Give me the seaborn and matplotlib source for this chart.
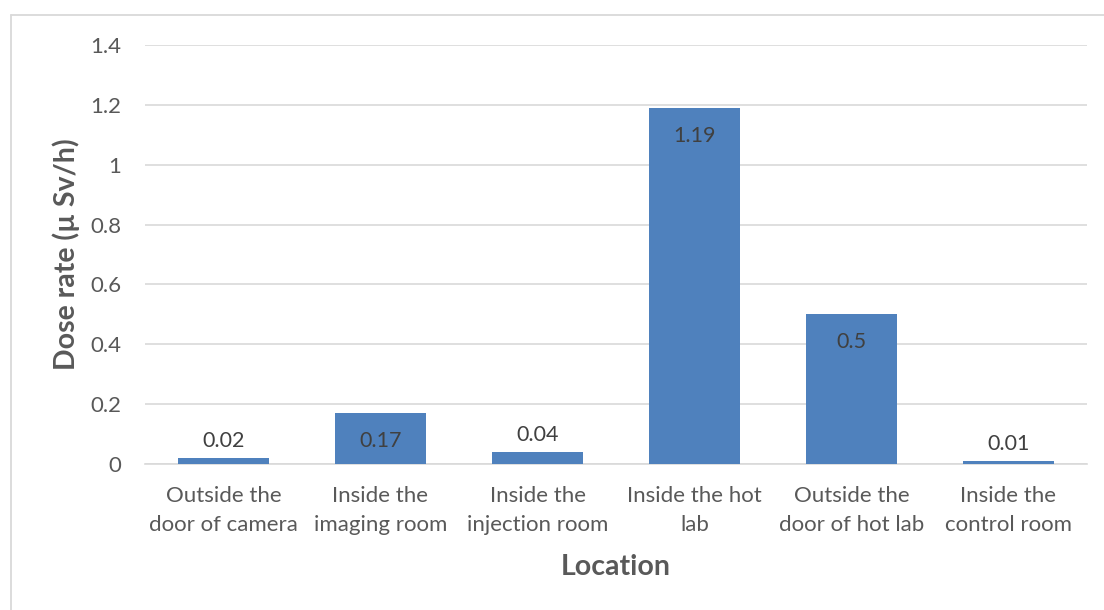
import matplotlib
matplotlib.use("Agg")
import matplotlib.pyplot as plt
from matplotlib.lines import Line2D
import seaborn as sns
import pandas as pd

# Measured dose rates at each location
locations = [
    "Outside the\ndoor of camera",
    "Inside the\nimaging room",
    "Inside the\ninjection room",
    "Inside the hot\nlab",
    "Outside the\ndoor of hot lab",
    "Inside the\ncontrol room",
]
dose_rates = [0.02, 0.17, 0.04, 1.19, 0.5, 0.01]
y_ticks = [0, 0.2, 0.4, 0.6, 0.8, 1, 1.2, 1.4]
y_tick_labels = ["0", "0.2", "0.4", "0.6", "0.8", "1", "1.2", "1.4"]

df = pd.DataFrame({"Location": locations, "Dose": dose_rates})

sns.set_theme(style="white")
plt.rcParams["font.family"] = ["Lato", "DejaVu Sans"]

W, H = 1104, 610
fig = plt.figure(figsize=(W / 100, H / 100), dpi=100)
ax = fig.add_axes([145 / W, (H - 464) / H, (1087 - 145) / W, (464 - 45) / H])

bar_color = "#4F81BD"
sns.barplot(data=df, x="Location", y="Dose", color=bar_color, width=0.575,
            saturation=1, ax=ax, zorder=3)
for p in ax.patches:
    p.set_edgecolor("none")

ax.set_ylim(0, 1.4)
ax.set_xlim(-0.5, len(locations) - 0.5)
ax.set_yticks(y_ticks)
ax.set_yticklabels(y_tick_labels)
ax.yaxis.grid(True, color="#d9d9d9", linewidth=1.2, zorder=0)
ax.set_axisbelow(True)
for s in ["top", "right", "left"]:
    ax.spines[s].set_visible(False)
ax.spines["bottom"].set_color("#d9d9d9")
ax.spines["bottom"].set_linewidth(1.2)

ax.tick_params(axis="y", length=0, pad=17, labelsize=16, labelcolor="#595959")
ax.tick_params(axis="x", length=0, pad=16, labelsize=16, labelcolor="#595959")
for t in ax.get_xticklabels():
    t.set_linespacing(1.52)

ax.set_xlabel("Location", fontsize=20.5, fontweight="bold", color="#595959")
ax.set_ylabel("Dose rate (µ Sv/h)", fontsize=20.5, fontweight="bold", color="#595959")
ax_w, ax_h = 1087 - 145, 464 - 45
ax.xaxis.set_label_coords(0.5, (464 - 567) / ax_h)
ax.xaxis.label.set_verticalalignment("center")
ax.yaxis.set_label_coords((66 - 145) / ax_w, 0.5)
ax.yaxis.label.set_verticalalignment("center")

# Value labels: inside the bar end for tall bars, above for short ones
for i, v in enumerate(dose_rates):
    if v >= 0.1:
        ax.annotate(f"{v:g}", (i, v), xytext=(0, -20), textcoords="offset points",
                    ha="center", va="center", fontsize=15.5, color="#404040", zorder=5)
    else:
        ax.annotate(f"{v:g}", (i, v), xytext=(0, 12), textcoords="offset points",
                    ha="center", va="center", fontsize=15.5, color="#404040", zorder=5)

# Chart frame (left and top edges visible)
fig.add_artist(Line2D([11 / W, 11 / W], [0, 1 - 15 / H], transform=fig.transFigure,
                      color="#d9d9d9", linewidth=1.3))
fig.add_artist(Line2D([11 / W, 1], [1 - 15 / H, 1 - 15 / H], transform=fig.transFigure,
                      color="#d9d9d9", linewidth=1.3))

fig.savefig("out.png", dpi=100, facecolor="white")
